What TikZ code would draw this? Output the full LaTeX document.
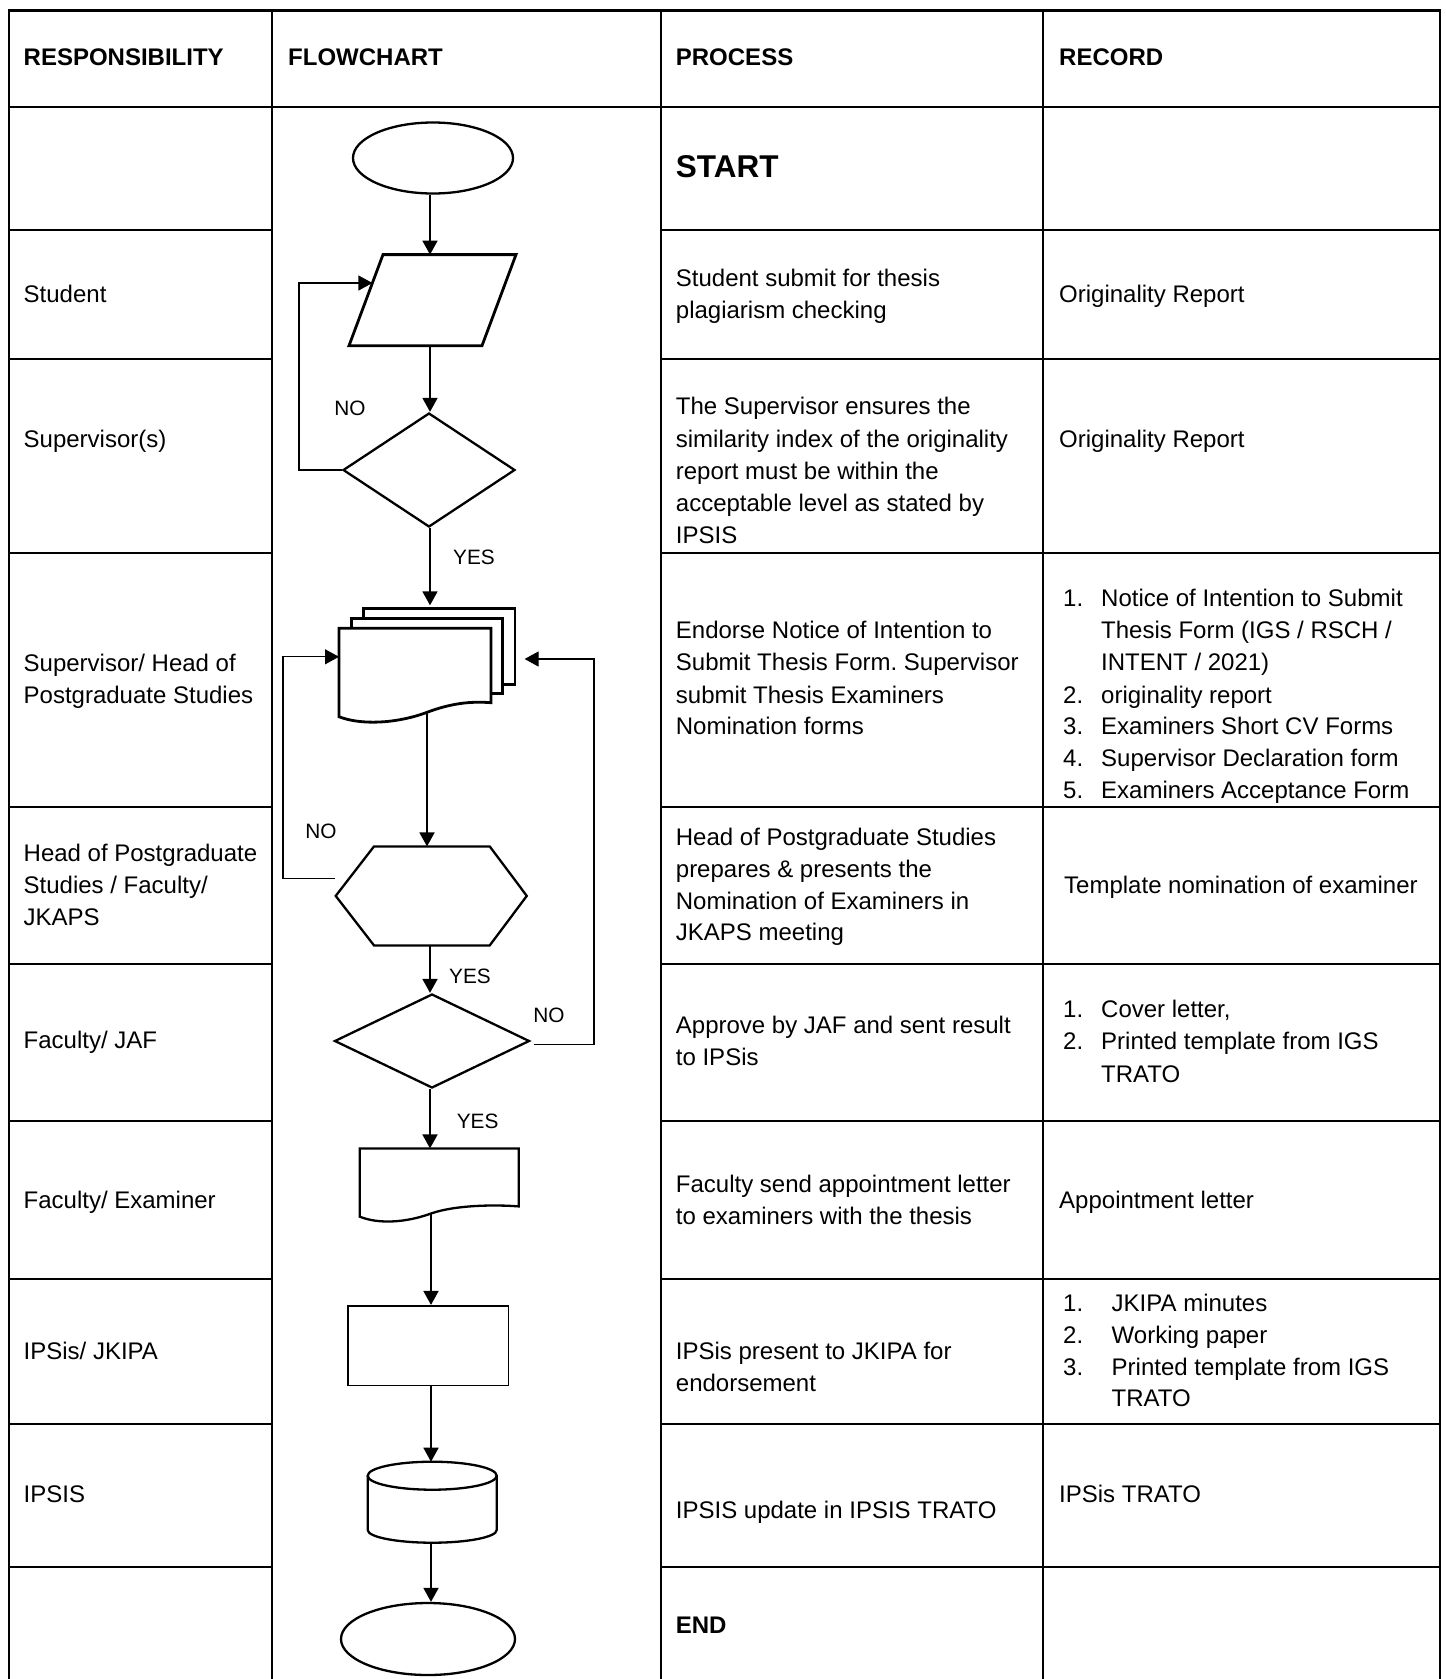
\documentclass[tikz,border=0pt]{standalone}
\usepackage{fontspec}
\setmainfont{Liberation Sans}
\usetikzlibrary{shapes.geometric,arrows.meta}
\newcommand\mytl[4]{\node[txt] (#1) at (#2,#3) {#4};}
\newcommand\mybl[4]{\node[txtb] (#1) at (#2,#3) {#4};}
\frenchspacing
\begin{document}
\begin{tikzpicture}[x=1pt,y=-1pt,
  txt/.style={anchor=base west,inner sep=0pt,font=\fontsize{24}{32}\selectfont},
  txtb/.style={anchor=base west,inner sep=0pt,font=\fontsize{24}{32}\selectfont\bfseries},
  lbl/.style={inner sep=0pt,font=\fontsize{20.8}{24}\selectfont},
  tbl/.style={line width=2.6pt,line cap=rect},
  shp/.style={draw,line width=2.3pt,inner sep=0pt},
  shpthick/.style={line width=2.8pt,line join=miter},
  inv/.style={inner sep=0pt,outer sep=0pt},
  con/.style={line width=1.8pt,-{Triangle[length=14pt,width=15pt]}},
  loopa/.style={line width=1.2pt,-{Triangle[length=14pt,width=15pt]}}]
\useasboundingbox (0,0) rectangle (1446,1679);
\coordinate (ax) at (430,0);
% ---------------- table ----------------
\draw[tbl] (9,10.7) -- (1440,10.7);
\draw[tbl] (9,107) -- (1440,107);
\foreach \y in {230,359,553,807,964,1121,1279,1424,1567}{
  \draw[tbl] (9,\y) -- (272,\y);
  \draw[tbl] (661,\y) -- (1440,\y);
}
\foreach \x in {9,272,661,1043,1440}{
  \draw[tbl] (\x,10.7) -- (\x,1690);
}
% ---------------- header ----------------
\mybl{hResp}{23.5}{65}{RESPONSIBILITY}
\mybl{hFlow}{288}{65}{FLOWCHART}
\mybl{hProc}{675.7}{65}{PROCESS}
\mybl{hRec}{1059}{65}{RECORD}
% ---------------- responsibility column ----------------
\mytl{r1}{23.5}{302.4}{Student}
\mytl{r2}{23.5}{447}{Supervisor(s)}
\mytl{r3a}{23.5}{671}{Supervisor/ Head of}
\mytl{r3b}{23.5}{703}{Postgraduate Studies}
\mytl{r4a}{23.5}{861.4}{Head of Postgraduate}
\mytl{r4b}{23.5}{893.5}{Studies / Faculty/}
\mytl{r4c}{23.5}{925.6}{JKAPS}
\mytl{r5}{23.5}{1048.7}{Faculty/ JAF}
\mytl{r6}{23.5}{1208.3}{Faculty/ Examiner}
\mytl{r7}{23.5}{1359.3}{IPSis/ JKIPA}
\mytl{r8}{23.5}{1502.8}{IPSIS}
% ---------------- process column ----------------
\node[anchor=base west,inner sep=0pt,font=\fontsize{31.5}{36}\selectfont\bfseries] (pStart) at (675.7,177) {START};
\mytl{p1a}{675.7}{286.3}{Student submit for thesis}
\mytl{p1b}{675.7}{318.5}{plagiarism checking}
\mytl{p2a}{675.7}{414.8}{The Supervisor ensures the}
\mytl{p2b}{675.7}{447}{similarity index of the originality}
\mytl{p2c}{675.7}{479}{report must be within the}
\mytl{p2d}{675.7}{511.2}{acceptable level as stated by}
\mytl{p2e}{675.7}{543.3}{IPSIS}
\mytl{p3a}{675.7}{638.6}{Endorse Notice of Intention to}
\mytl{p3b}{675.7}{670.8}{Submit Thesis Form. Supervisor}
\mytl{p3c}{675.7}{703}{submit Thesis Examiners}
\mytl{p3d}{675.7}{734}{Nomination forms}
\mytl{p4a}{675.7}{845.3}{Head of Postgraduate Studies}
\mytl{p4b}{675.7}{877.4}{prepares \& presents the}
\mytl{p4c}{675.7}{909.5}{Nomination of Examiners in}
\mytl{p4d}{675.7}{940.6}{JKAPS meeting}
\mytl{p5a}{675.7}{1033.8}{Approve by JAF and sent result}
\mytl{p5b}{675.7}{1065.9}{to IPSis}
\mytl{p6a}{675.7}{1192.2}{Faculty send appointment letter}
\mytl{p6b}{675.7}{1224.4}{to examiners with the thesis}
\mytl{p7a}{675.7}{1359.3}{IPSis present to JKIPA for}
\mytl{p7b}{675.7}{1391.4}{endorsement}
\mytl{p8}{675.7}{1518.8}{IPSIS update in IPSIS TRATO}
\mybl{pEnd}{675.7}{1633.4}{END}
% ---------------- record column ----------------
\mytl{c1}{1059}{302.4}{Originality Report}
\mytl{c2}{1059}{447}{Originality Report}
\mytl{c3n1}{1063}{606.5}{1.}
\mytl{c3t1}{1101}{606.5}{Notice of Intention to Submit}
\mytl{c3t1b}{1101}{638.6}{Thesis Form (IGS / RSCH /}
\mytl{c3t1c}{1101}{670.8}{INTENT / 2021)}
\mytl{c3n2}{1063}{703}{2.}
\mytl{c3t2}{1101}{703}{originality report}
\mytl{c3n3}{1063}{734}{3.}
\mytl{c3t3}{1101}{734}{Examiners Short CV Forms}
\mytl{c3n4}{1063}{766}{4.}
\mytl{c3t4}{1101}{766}{Supervisor Declaration form}
\mytl{c3n5}{1063}{798}{5.}
\mytl{c3t5}{1101}{798}{Examiners Acceptance Form}
\mytl{c4}{1064}{893.5}{Template nomination of examiner}
\mytl{c5n1}{1063}{1017.7}{1.}
\mytl{c5t1}{1101}{1017.7}{Cover letter,}
\mytl{c5n2}{1063}{1049.8}{2.}
\mytl{c5t2}{1101}{1049.8}{Printed template from IGS}
\mytl{c5t2b}{1101}{1082}{TRATO}
\mytl{c6}{1059}{1208.3}{Appointment letter}
\mytl{c7n1}{1063}{1311}{1.}
\mytl{c7t1}{1111.5}{1311}{JKIPA minutes}
\mytl{c7n2}{1063}{1343.2}{2.}
\mytl{c7t2}{1111.5}{1343.2}{Working paper}
\mytl{c7n3}{1063}{1375.3}{3.}
\mytl{c7t3}{1111.5}{1375.3}{Printed template from IGS}
\mytl{c7t3b}{1111.5}{1406.4}{TRATO}
\mytl{c8}{1059}{1502.8}{IPSis TRATO}
% ---------------- flowchart shapes ----------------
\node[shp,ellipse,minimum width=160pt,minimum height=71pt] (start) at (433,158) {};
\draw[shpthick] (383,254.6) -- (516,254.6) -- (482,345.7) -- (349,345.7) -- cycle;
\node[inv,minimum width=167pt,minimum height=91.1pt] (para) at (432.5,300.15) {};
\node[shp,diamond,minimum width=172pt,minimum height=114pt] (d1) at (429,470) {};
% multi document
\draw[shpthick] (363.3,618.3) -- (363.3,608.3) -- (515,608.3) -- (515,684.3) -- (502.7,684.3);
\draw[shpthick] (351.7,628.3) -- (351.7,618.3) -- (502.7,618.3) -- (502.7,693.7) -- (491,693.7);
\draw[shpthick] (339,628.3) -- (491,628.3) -- (491,702.7)
  .. controls (470,701) and (450,703.5) .. (426,712.7)
  .. controls (395,724) and (360,725) .. (339,716.7) -- cycle;
\node[inv,minimum width=176pt,minimum height=113.4pt] (mdoc) at (427,665) {};
\coordinate (mdocOut) at (427,712.5);
\coordinate (mdocIn) at (339,656.8);
\coordinate (mdocInR) at (524.6,659);
% hexagon
\draw[shp] (374,846.4) -- (489.7,846.4) -- (526.8,895.9) -- (489.7,945.4) -- (374,945.4) -- (335.7,895.9) -- cycle;
\node[inv,minimum width=191.1pt,minimum height=99pt] (hex) at (431.25,895.9) {};
\coordinate (hexOut) at (335,878.6);
\node[shp,diamond,minimum width=195pt,minimum height=94pt] (d2) at (432,1041) {};
\coordinate (d2Out) at (533.5,1044.6);
% document
\draw[shp] (359.8,1148.4) -- (518.75,1148.4) -- (518.75,1206.4)
  .. controls (495,1204.5) and (455,1205) .. (431,1213.5)
  .. controls (405,1223) and (378,1224) .. (359.8,1216.7) -- cycle;
\node[inv,minimum width=159pt,minimum height=72pt] (doc) at (439.3,1184.4) {};
\coordinate (docOut) at (431,1213.5);
% rectangle
\node[draw,line width=1.6pt,inner sep=0pt,minimum width=160.7pt,minimum height=79.8pt] (rect) at (428.2,1345.6) {};
% cylinder
\draw[shp] (432.2,1475.7) ellipse [x radius=64.5pt, y radius=14pt];
\draw[shp] (367.7,1475.7) -- (367.7,1530) arc[start angle=180,end angle=360,x radius=64.5pt,y radius=12.7pt] -- (496.7,1475.7);
\node[inv,minimum width=129pt,minimum height=81pt] (cyl) at (432.2,1502.2) {};
\node[shp,ellipse,minimum width=174pt,minimum height=72pt] (endn) at (428,1639) {};
% ---------------- connectors ----------------
\draw[con] (ax |- start.south) -- (ax |- para.north);
\draw[con] (ax |- para.south) -- (ax |- d1.north);
\draw[loopa] (d1.west) -- (299,470) -- (299,283) -- (372.4,283);
\draw[con,shorten >=3pt] (ax |- d1.south) -- (ax |- mdoc.north);
\draw[con] (mdocOut) -- (mdocOut |- hex.north);
\draw[loopa] (hexOut) -- (283,878.6) -- (283,656.8) -- (mdocIn);
\draw[con] (ax |- hex.south) -- (ax |- d2.north);
\draw[loopa] (d2Out) -- (594,1044.6) -- (594,659) -- (mdocInR);
\draw[con] (ax |- d2.south) -- (ax |- doc.north);
\draw[con] (docOut) -- (docOut |- rect.north);
\draw[con] (docOut |- rect.south) -- (docOut |- cyl.north);
\draw[con] (docOut |- cyl.south) -- (docOut |- endn.north);
% ---------------- labels ----------------
\node[lbl] (no1) at (350,408) {NO};
\node[lbl] (yes1) at (474,557) {YES};
\node[lbl] (no2) at (321,831) {NO};
\node[lbl] (yes2) at (470,976) {YES};
\node[lbl] (no3) at (549,1015) {NO};
\node[lbl] (yes3) at (477.6,1121) {YES};
\end{tikzpicture}
\end{document}
